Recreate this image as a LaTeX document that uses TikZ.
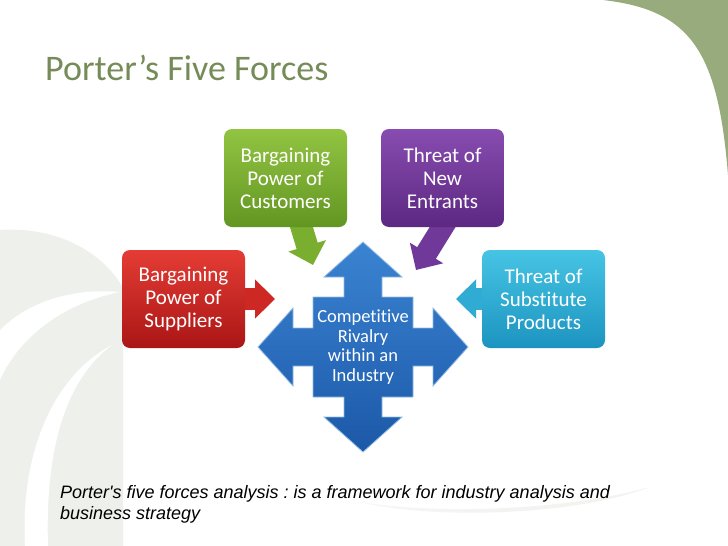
\documentclass[tikz,border=0pt]{standalone}
\usepackage{fontspec}
\setmainfont{Carlito}[Ligatures=NoCommon]
\newfontfamily\arialfont{Liberation Sans}
\usetikzlibrary{arrows.meta,backgrounds}
\frenchspacing

\definecolor{titlegreen}{RGB}{118,140,88}
\definecolor{cornergreen}{RGB}{152,171,125}
\definecolor{bgtint}{RGB}{238,241,235}
\definecolor{redtop}{RGB}{228,60,52}
\definecolor{redbot}{RGB}{170,22,22}
\definecolor{redarr}{RGB}{205,40,36}
\definecolor{greentop}{RGB}{146,196,66}
\definecolor{greenbot}{RGB}{98,150,34}
\definecolor{greenarr}{RGB}{122,174,46}
\definecolor{purpletop}{RGB}{136,76,176}
\definecolor{purplebot}{RGB}{92,40,130}
\definecolor{purplearr}{RGB}{112,56,152}
\definecolor{cyantop}{RGB}{70,196,228}
\definecolor{cyanbot}{RGB}{28,148,192}
\definecolor{cyanarr}{RGB}{48,172,212}
\definecolor{bluetop}{RGB}{58,132,210}
\definecolor{bluebot}{RGB}{28,88,168}

\begin{document}
\begin{tikzpicture}[x=1pt, y=1pt,
        force/.style={rounded corners=8pt, minimum width=123pt, minimum height=98pt,
            align=center, text=white, font=\fontsize{21}{23}\selectfont},
        push/.style={line width=22pt, shorten <=-10pt, -{Triangle[length=20pt,width=38pt]}}]
        \useasboundingbox (0,0) rectangle (728,-546);

        % 标题
        \node[anchor=base west, inner sep=0pt, text=titlegreen, font=\fontsize{36}{40}\selectfont] (title) at (45,-80) {Porter’s Five Forces};

        % 中心
        \coordinate (mid) at (363,-347);
        \shadedraw[top color=bluetop, bottom color=bluebot, draw=bluetop!55!white, line width=0.8pt, shift={(mid)}]
            (0,105) -- (39,70) -- (19,70) -- (19,50) -- (50,50) -- (50,19) -- (70,19) -- (70,39)
            -- (105,0) -- (70,-39) -- (70,-19) -- (50,-19) -- (50,-50) -- (19,-50) -- (19,-70) -- (39,-70)
            -- (0,-105) -- (-39,-70) -- (-19,-70) -- (-19,-50) -- (-50,-50) -- (-50,-19) -- (-70,-19) -- (-70,-39)
            -- (-105,0) -- (-70,39) -- (-70,19) -- (-50,19) -- (-50,50) -- (-19,50) -- (-19,70) -- (-39,70) -- cycle;
        \node[align=center, text=white, font=\fontsize{18.5}{19.5}\selectfont] (rival) at (mid) {Competitive\\Rivalry\\within an\\Industry};

        % 五力
        \node[force, top color=redtop, bottom color=redbot] (sup) at (183.5,-299) {Bargaining\\Power of\\Suppliers};
        \node[force, top color=cyantop, bottom color=cyanbot, node distance=360pt, right of=sup] (subst) {Threat of\\Substitute\\Products};
        \node[force, top color=greentop, bottom color=greenbot] (cust) at (285.5,-178) {Bargaining\\Power of\\Customers};
        \node[force, top color=purpletop, bottom color=purplebot, node distance=157pt, right of=cust] (entr) {Threat of\\New\\Entrants};

        % 说明
        \node[anchor=north west, inner sep=0pt, align=left, font=\arialfont\itshape\fontsize{18}{21}\selectfont] (note) at (60,-485)
            {Porter's five forces analysis : is a framework for industry analysis and\\business strategy};

        \begin{scope}[on background layer]
            % 背景
            \fill[white] (0,0) rectangle (728,-546);
            \fill[cornergreen] (603,0) .. controls (690,-10) and (718,-50) .. (728,-175) -- (728,0) -- cycle;
            \fill[bgtint] (0,-230) .. controls (60,-226) and (105,-255) .. (123,-288) -- (123,-546) -- (0,-546) -- cycle;
            \fill[white] (120,-292) .. controls (55,-305) and (15,-345) .. (0,-380) -- (0,-330) .. controls (30,-300) and (75,-288) .. cycle;
            \fill[white] (112,-345) .. controls (65,-380) and (45,-450) .. (48,-546) -- (25,-546) .. controls (20,-450) and (55,-375) .. cycle;
            \shade[left color=gray!8, middle color=titlegreen!75, right color=titlegreen!10]
                (360,-502) .. controls (430,-514) and (560,-512) .. (650,-487) .. controls (570,-517) and (430,-519) .. cycle;

            % 箭头
            \coordinate (supTip) at (275,-299);
            \coordinate (substTip) at (456,-299);
            \coordinate (custTip) at (313,-265);
            \coordinate (entrTip) at (416,-270);
            \draw[push, redarr] (sup.east) -- (supTip);
            \draw[push, cyanarr] (subst.west) -- (substTip);
            \draw[push, greenarr] (cust.-72) -- (custTip);
            \draw[push, purplearr] (entr.south) -- (entrTip);
        \end{scope}
    \end{tikzpicture}
\end{document}
